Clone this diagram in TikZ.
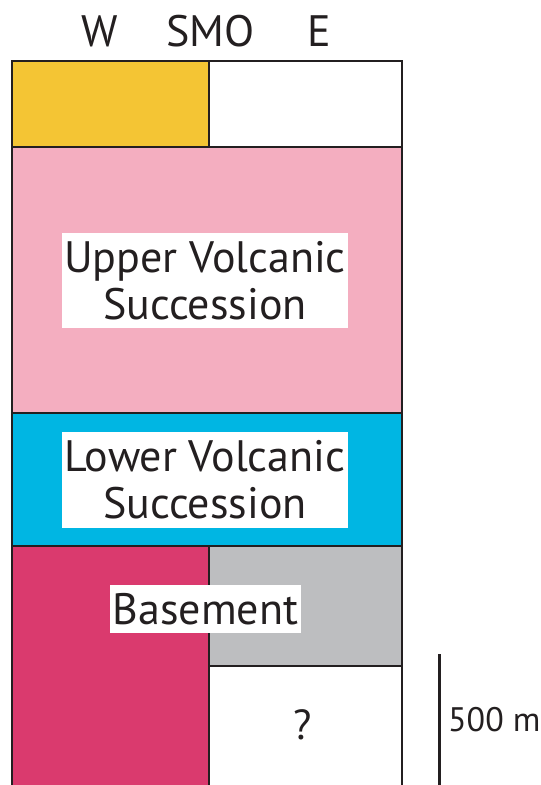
\documentclass[tikz,border=0pt]{standalone}
\usepackage{fontspec}
\setmainfont{PT Sans}
\definecolor{capcol}{HTML}{F4C534}
\definecolor{uvscol}{HTML}{F4AEC0}
\definecolor{lvscol}{HTML}{00B6E3}
\definecolor{basecol}{HTML}{DA3A6E}
\definecolor{greycol}{HTML}{BDBEC0}
\definecolor{inkcol}{HTML}{231F20}
\tikzset{
  edge/.style={draw=inkcol, line width=2pt},
  headlbl/.style={font=\fontsize{44}{44}\selectfont, text=inkcol, inner sep=0pt},
  panel/.style={fill=white, align=center, inner sep=0pt, text=inkcol,
    font=\fontsize{44}{47}\selectfont},
  scaletxt/.style={font=\fontsize{34}{34}\selectfont, text=inkcol, inner sep=0pt}
}
\begin{document}
\begin{tikzpicture}[x=1pt, y=-1pt]
\useasboundingbox (0,0) rectangle (541,785);
% layer fills
\fill[capcol] (12,61) rectangle (209,147);
\fill[white] (209,61) rectangle (402,147);
\fill[uvscol] (12,147) rectangle (402,413);
\fill[lvscol] (12,413) rectangle (402,546);
\fill[basecol] (12,546) rectangle (209,792);
\fill[greycol] (209,546) rectangle (402,666);
\fill[white] (209,666) rectangle (402,792);
% layer boundaries
\draw[edge] (12,792) -- (12,61) -- (402,61) -- (402,792);
\draw[edge] (12,147) -- (402,147);
\draw[edge] (12,413) -- (402,413);
\draw[edge] (12,546) -- (402,546);
\draw[edge] (209,61) -- (209,147);
\draw[edge] (209,546) -- (209,792);
\draw[edge] (209,666) -- (402,666);
% column headings
\node[headlbl] (west) at (99.5,31) {W};
\node[headlbl] (smo) at (210.5,31) {SMO};
\node[headlbl] (east) at (319,31) {E};
% unit labels
\node[panel, minimum width=286pt, minimum height=95pt] (uvs) at (205,280.5) {Upper Volcanic\\Succession};
\node[panel, minimum width=286pt, minimum height=96pt] (lvs) at (205,480) {Lower Volcanic\\Succession};
\node[panel, minimum width=191pt, minimum height=48pt] (bsm) at (205.5,609) {Basement};
\node[headlbl, font=\fontsize{42}{42}\selectfont] (unk) at (303,725) {?};
% scale bar
\coordinate (bartop) at (439,654);
\coordinate (barbot) at (439,792);
\draw[draw=inkcol, line width=3pt] (bartop) -- (barbot);
\node[scaletxt, anchor=base west] (barlbl) at (448,731) {500 m};
\end{tikzpicture}
\end{document}
